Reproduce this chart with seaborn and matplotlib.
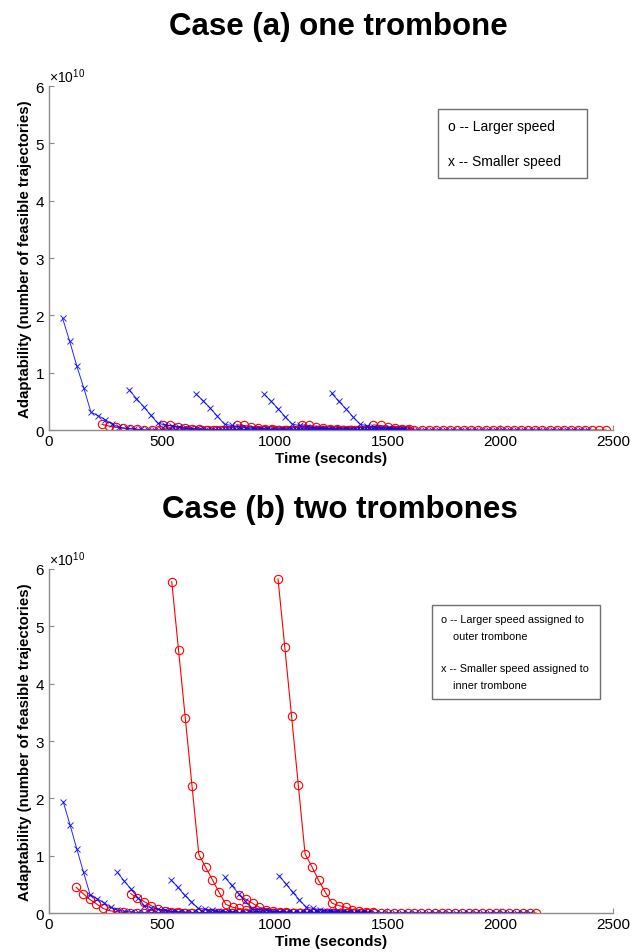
import numpy as np
import pandas as pd
import matplotlib
matplotlib.use("Agg")
import matplotlib.pyplot as plt
import seaborn as sns
from matplotlib.lines import Line2D
from matplotlib.ticker import ScalarFormatter

# ---------------- data (values in units of 1e10) ----------------
SCALE = 1e10
TAIL_LEVEL = 0.0  # the long flat tail sitting on the zero line

# Case (a) one trombone
a_dt = 31.5
a_blue_starts = [60, 356, 652, 953, 1253]
a_blue_ends = [2400, 1560, 1560, 1580, 1580]
a_blue_heads = [
    [1.95, 1.55, 1.12, 0.73, 0.31, 0.25, 0.18, 0.10, 0.05, 0.03, 0.02, 0.01],
    [0.70, 0.55, 0.41, 0.26, 0.12, 0.09, 0.07, 0.05, 0.03, 0.02, 0.01],
    [0.63, 0.51, 0.38, 0.24, 0.10, 0.08, 0.06, 0.04, 0.03, 0.02, 0.01],
    [0.63, 0.50, 0.37, 0.23, 0.10, 0.08, 0.06, 0.04, 0.03, 0.02, 0.01],
    [0.64, 0.50, 0.37, 0.23, 0.10, 0.075, 0.06, 0.04, 0.03, 0.02, 0.01],
]
a_red_starts = [234, 507, 832, 1120, 1438]
a_red_ends = [2460, 1580, 1580, 1580, 1580]
a_red_heads = [
    [0.10, 0.07, 0.05, 0.03, 0.02, 0.01],
    [0.09, 0.08, 0.06, 0.04, 0.02, 0.01],
    [0.09, 0.08, 0.06, 0.04, 0.02, 0.01],
    [0.09, 0.08, 0.06, 0.04, 0.02, 0.01],
    [0.09, 0.08, 0.06, 0.04, 0.02, 0.01],
]

# Case (b) two trombones
b_dt = 30.0
b_blue_starts = [63, 303, 541, 780, 1020]
b_blue_ends = [2130, 1420, 1420, 1420, 1420]
b_blue_heads = [
    [1.94, 1.54, 1.12, 0.71, 0.31, 0.25, 0.18, 0.10, 0.05, 0.03, 0.02, 0.01],
    [0.71, 0.56, 0.42, 0.27, 0.13, 0.09, 0.07, 0.05, 0.03, 0.02, 0.01],
    [0.58, 0.45, 0.31, 0.20, 0.08, 0.07, 0.05, 0.03, 0.02, 0.01],
    [0.62, 0.48, 0.34, 0.21, 0.07, 0.06, 0.05, 0.03, 0.02, 0.01],
    [0.65, 0.51, 0.36, 0.23, 0.10, 0.08, 0.06, 0.04, 0.03, 0.02, 0.01],
]
b_red_starts = [120, 362, 544, 842, 1015]
b_red_ends = [2163, 1420, 1420, 1420, 1420]
b_red_heads = [
    [0.45, 0.34, 0.24, 0.16, 0.08, 0.04, 0.02, 0.01],
    [0.34, 0.26, 0.20, 0.13, 0.07, 0.04, 0.02, 0.01],
    [5.78, 4.59, 3.40, 2.21, 1.02, 0.80, 0.58, 0.36, 0.15, 0.10, 0.08, 0.05, 0.03, 0.02, 0.01],
    [0.31, 0.24, 0.17, 0.10, 0.06, 0.03, 0.02, 0.01],
    [5.83, 4.64, 3.44, 2.23, 1.03, 0.81, 0.57, 0.36, 0.17, 0.13, 0.10, 0.06, 0.04, 0.02, 0.01],
]

x_ticks = [0, 500, 1000, 1500, 2000, 2500]
y_ticks = [0, 1, 2, 3, 4, 5, 6]

titles = ["Case (a) one trombone", "Case (b) two trombones"]
x_label = "Time (seconds)"
y_label = "Adaptability (number of feasible trajectories)"
legend_a = ["o -- Larger speed", "x -- Smaller speed"]
legend_b = ["o -- Larger speed assigned to\n    outer trombone",
            "x -- Smaller speed assigned to\n    inner trombone"]


def segments_frame(starts, ends, heads, dt):
    rows = []
    for i, (s, e, h) in enumerate(zip(starts, ends, heads)):
        n = max(len(h), int(round((e - s) / dt)) + 1)
        vals = list(h) + [TAIL_LEVEL] * (n - len(h))
        for k, v in enumerate(vals):
            rows.append({"seg": i, "t": s + k * dt, "v": v * SCALE})
    return pd.DataFrame(rows)


# ---------------- style ----------------
sns.set_style("ticks", {"xtick.direction": "in", "ytick.direction": "in"})
plt.rcParams["font.family"] = ["Liberation Sans", "DejaVu Sans"]
plt.rcParams["text.color"] = "black"
plt.rcParams["axes.labelcolor"] = "black"
plt.rcParams["mathtext.fontset"] = "custom"
plt.rcParams["mathtext.rm"] = "Liberation Sans"
plt.rcParams["mathtext.it"] = "Liberation Sans:italic"
plt.rcParams["mathtext.bf"] = "Liberation Sans:bold"

SPINE = "#8c8c8c"

fig = plt.figure(figsize=(6.44, 9.53), dpi=100)
ax_a = fig.add_axes([0.0761, 0.5477, 0.8758, 0.361])
ax_b = fig.add_axes([0.0761, 0.0409, 0.8758, 0.361])

# legend box: (left, top, width) in axes fraction, fontsize, labelspacing, linespacing, borderpad
panels = [
    (ax_a, a_dt, a_blue_starts, a_blue_ends, a_blue_heads,
     a_red_starts, a_red_ends, a_red_heads, legend_a,
     (0.690, 0.933, 0.264), 10, 1.5, 1.2, 0.72),
    (ax_b, b_dt, b_blue_starts, b_blue_ends, b_blue_heads,
     b_red_starts, b_red_ends, b_red_heads, legend_b,
     (0.679, 0.895, 0.298), 7.8, 2.0, 1.86, 0.85),
]

for (ax, dt, bs, be, bh, rs, re, rh, leg_labels, leg_box,
     leg_fs, leg_sp, leg_ls, leg_bp) in panels:
    df_red = segments_frame(rs, re, rh, dt)
    df_blue = segments_frame(bs, be, bh, dt)
    sns.lineplot(data=df_red, x="t", y="v", units="seg", estimator=None, sort=False,
                 color="#ff0000", marker="o", markersize=6, markerfacecolor="none",
                 markeredgecolor="#ff0000", markeredgewidth=0.8, linewidth=0.8,
                 legend=False, ax=ax)
    sns.lineplot(data=df_blue, x="t", y="v", units="seg", estimator=None, sort=False,
                 color="#0000ff", marker="x", markersize=4, markeredgecolor="#0000ff",
                 markeredgewidth=0.7, linewidth=0.7, alpha=0.85,
                 legend=False, ax=ax)

    ax.set_xlim(0, 2500)
    ax.set_ylim(0, 6 * SCALE)
    ax.set_xticks(x_ticks)
    ax.set_yticks([y * SCALE for y in y_ticks])
    fmt = ScalarFormatter(useMathText=True)
    fmt.set_scientific(True)
    fmt.set_powerlimits((0, 0))
    ax.yaxis.set_major_formatter(fmt)
    ax.yaxis.offsetText.set_fontsize(10)
    ax.yaxis.offsetText.set_color("black")

    sns.despine(ax=ax)
    for sp in ("left", "bottom"):
        ax.spines[sp].set_color(SPINE)
        ax.spines[sp].set_linewidth(1.0)
    ax.tick_params(axis="both", which="major", direction="in", length=3.5, width=0.8,
                   color=SPINE, labelsize=11, labelcolor="black", pad=3)

    ax.set_xlabel(x_label, fontsize=11, fontweight="bold", labelpad=2, color="black")
    ax.set_ylabel(y_label, fontsize=10.8, fontweight="bold", labelpad=2, color="black")

    handles = [Line2D([], [], linestyle="none") for _ in leg_labels]
    x0, top, w = leg_box
    leg = ax.legend(handles, leg_labels, loc="upper left",
                    bbox_to_anchor=(x0, 0, w, top), mode="expand",
                    borderaxespad=0, handlelength=0, handletextpad=0,
                    labelspacing=leg_sp, borderpad=leg_bp, fontsize=leg_fs,
                    frameon=True, fancybox=False, framealpha=1)
    for t in leg.get_texts():
        t.set_linespacing(leg_ls)
        t.set_color("black")
    leg.get_frame().set_edgecolor("#707070")
    leg.get_frame().set_linewidth(1.0)

fig.text(0.525, 1 - 27 / 953, titles[0], ha="center", va="center",
         fontsize=22.5, fontweight="bold", color="black")
fig.text(0.528, 1 - 510 / 953, titles[1], ha="center", va="center",
         fontsize=22.5, fontweight="bold", color="black")

fig.savefig("out.png", dpi=100)
